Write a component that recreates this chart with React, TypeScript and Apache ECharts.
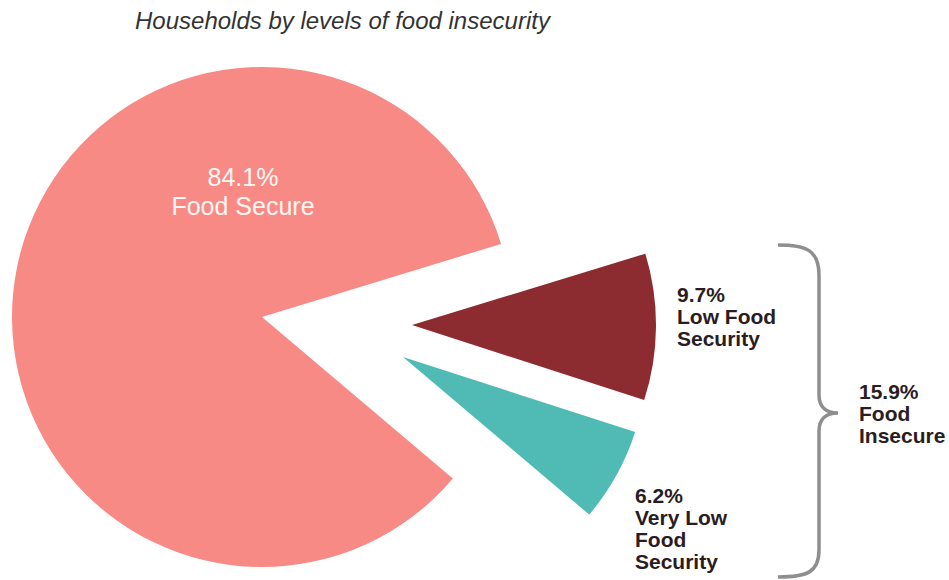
import React, { useEffect, useRef } from "react";
import * as echarts from "echarts";

const titleText = "Households by levels of food insecurity";
const categories = ["Low Food Security", "Very Low Food Security", "Food Secure"];
const labelNames = ["Low Food\nSecurity", "Very Low\nFood\nSecurity", "Food Secure"];
const values = [9.7, 6.2, 84.1];
const colors = ["#8C2C30", "#50BAB5", "#F88A86"];
const insecureName = "Food\nInsecure";
const insecureIdx = [0, 1];

const BRACE_D =
  "M778 245 C806 245 819 250 819 275 L819 395 C819 407 826 413 838 413 C826 413 819 419 819 431 L819 550 C819 573 806 577 778 577";

let registered = false;

export default function App() {
  const ref = useRef<HTMLDivElement>(null);
  useEffect(() => {
    if (!ref.current) return;
    if (!registered) {
      echarts.graphic.registerShape("brace", echarts.graphic.extendPath(BRACE_D, {}));
      registered = true;
    }
    const chart = echarts.init(ref.current, null, { renderer: "svg" });
    const font = "'Liberation Sans', Arial, sans-serif";
    const darkText = "#2B1C1F";

    const makeData = (visibleIdx: number, labelStyle: any) =>
      values.map((v, i) => ({
        name: categories[i],
        value: v,
        itemStyle: { color: i === visibleIdx ? colors[i] : "rgba(0,0,0,0)", borderWidth: 0 },
        label: i === visibleIdx ? { show: true, ...labelStyle } : { show: false },
      }));

    const fmt = (idx: number) => `${values[idx].toFixed(1)}%\n${labelNames[idx]}`;

    const smallLabel = {
      position: "inside",
      fontFamily: font,
      fontSize: 21,
      fontWeight: "bold",
      lineHeight: 22,
      color: darkText,
      align: "left",
    };

    const baseSeries = {
      type: "pie",
      startAngle: 17,
      clockwise: true,
      avoidLabelOverlap: false,
      silent: true,
      labelLine: { show: false },
      emphasis: { disabled: true },
    };

    const insecureTotal = insecureIdx.reduce((s, i) => s + values[i], 0);

    chart.setOption({
      animation: false,
      backgroundColor: "#ffffff",
      title: {
        text: titleText,
        left: 135,
        top: 8,
        padding: 0,
        textStyle: {
          fontFamily: font,
          fontStyle: "italic",
          fontWeight: "normal",
          fontSize: 24,
          color: "#333333",
        },
      },
      series: [
        {
          ...baseSeries,
          center: [262, 317],
          radius: 250,
          data: makeData(2, {
            position: "inside",
            formatter: () => fmt(2),
            fontFamily: font,
            fontSize: 25,
            lineHeight: 29,
            color: "#FFF6F4",
            align: "center",
          }),
          labelLayout: () => ({ x: 243, y: 191, align: "center", verticalAlign: "middle" }),
        },
        {
          ...baseSeries,
          center: [412, 325],
          radius: 244,
          data: makeData(0, { ...smallLabel, formatter: () => fmt(0) }),
          labelLayout: () => ({ x: 677, y: 283, align: "left", verticalAlign: "top" }),
        },
        {
          ...baseSeries,
          center: [403, 357],
          radius: 244,
          data: makeData(1, { ...smallLabel, formatter: () => fmt(1) }),
          labelLayout: () => ({ x: 635, y: 484, align: "left", verticalAlign: "top" }),
        },
      ],
      graphic: [
        {
          type: "brace",
          x: 0,
          y: 0,
          silent: true,
          style: { stroke: "#8E8E8E", lineWidth: 3.5, fill: "none" },
        },
        {
          type: "text",
          x: 859,
          y: 380,
          silent: true,
          style: {
            text: `${insecureTotal.toFixed(1)}%\n${insecureName}`,
            font: `bold 21px ${font}`,
            lineHeight: 22,
            fill: darkText,
            textAlign: "left",
            textVerticalAlign: "top",
          },
        },
      ],
    });
    return () => chart.dispose();
  }, []);
  return (
    <div
      ref={ref}
      style={{ position: "absolute", left: 0, top: 0, width: 949, height: 580, background: "#fff" }}
    />
  );
}
